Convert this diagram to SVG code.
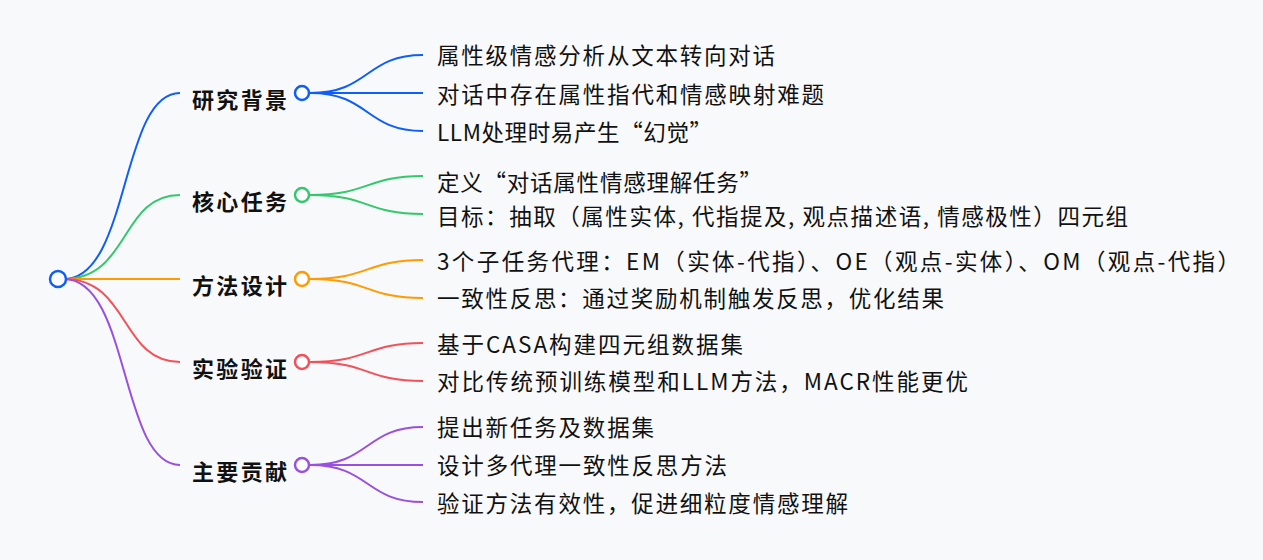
<svg xmlns="http://www.w3.org/2000/svg" width="1263" height="560" viewBox="0 0 1263 560">
<style>
.l1{font-family:"Noto Sans CJK SC","Noto Sans",sans-serif;font-size:22px;font-weight:bold;fill:#111}
.lf{font-family:"Noto Sans CJK SC","Noto Sans",sans-serif;font-size:22.5px;fill:#111}
path{fill:none;stroke-width:2}
circle{fill:#fff;stroke-width:2.5}
.b{stroke:#0f5ef7}.g{stroke:#33c76e}.o{stroke:#ff9a00}.r{stroke:#f4505a}.p{stroke:#9a50df}
</style>
<rect width="1263" height="560" fill="#f8f9fb"/>
<g id="connectors">
<path class="b" d="M64,279 C130,279 120,93 180,93"/>
<path class="g" d="M64,279 C130,279 120,195 180,195"/>
<path class="o" d="M64,279 L180,279"/>
<path class="r" d="M64,279 C130,279 120,362 180,362"/>
<path class="p" d="M64,279 C130,279 120,465 180,465"/>
<path class="b" d="M310,93 C370,93 365,55 423,55 M310,93 L423,93 M310,93 C370,93 365,131 423,131"/>
<path class="g" d="M310,195 C370,195 365,176 423,176 M310,195 C370,195 365,214 423,214"/>
<path class="o" d="M310,279 C370,279 365,260 423,260 M310,279 C370,279 365,298 423,298"/>
<path class="r" d="M310,362 C370,362 365,343 423,343 M310,362 C370,362 365,381 423,381"/>
<path class="p" d="M310,465 C370,465 365,427 423,427 M310,465 L423,465 M310,465 C370,465 365,502 423,502"/>
</g>
<g id="root"><circle class="b" cx="58" cy="279" r="8"/></g>
<g id="n1"><circle class="b" cx="302" cy="93" r="7"/><text class="l1" x="192" y="108" textLength="95">研究背景</text></g>
<g id="n2"><circle class="g" cx="302" cy="195" r="7"/><text class="l1" x="192" y="210" textLength="95">核心任务</text></g>
<g id="n3"><circle class="o" cx="302" cy="279" r="7"/><text class="l1" x="192" y="294" textLength="95">方法设计</text></g>
<g id="n4"><circle class="r" cx="302" cy="362" r="7"/><text class="l1" x="192" y="377" textLength="95">实验验证</text></g>
<g id="n5"><circle class="p" cx="302" cy="465" r="7"/><text class="l1" x="192" y="480" textLength="95">主要贡献</text></g>
<g id="leaves">
<text class="lf" x="437" y="64" textLength="338">属性级情感分析从文本转向对话</text>
<text class="lf" x="437" y="103" textLength="387">对话中存在属性指代和情感映射难题</text>
<text class="lf" x="437" y="141" textLength="275">LLM处理时易产生“幻觉”</text>
<text class="lf" x="437" y="191" textLength="325">定义“对话属性情感理解任务”</text>
<text class="lf" x="437" y="225" textLength="691">目标：抽取（属性实体, 代指提及, 观点描述语, 情感极性）四元组</text>
<text class="lf" x="437" y="270" textLength="803">3个子任务代理：EM（实体-代指）、OE（观点-实体）、OM（观点-代指）</text>
<text class="lf" x="437" y="307" textLength="507">一致性反思：通过奖励机制触发反思，优化结果</text>
<text class="lf" x="437" y="353" textLength="306">基于CASA构建四元组数据集</text>
<text class="lf" x="437" y="390" textLength="531">对比传统预训练模型和LLM方法，MACR性能更优</text>
<text class="lf" x="437" y="436" textLength="217">提出新任务及数据集</text>
<text class="lf" x="437" y="474" textLength="290">设计多代理一致性反思方法</text>
<text class="lf" x="437" y="512" textLength="411">验证方法有效性，促进细粒度情感理解</text>
</g>
</svg>
